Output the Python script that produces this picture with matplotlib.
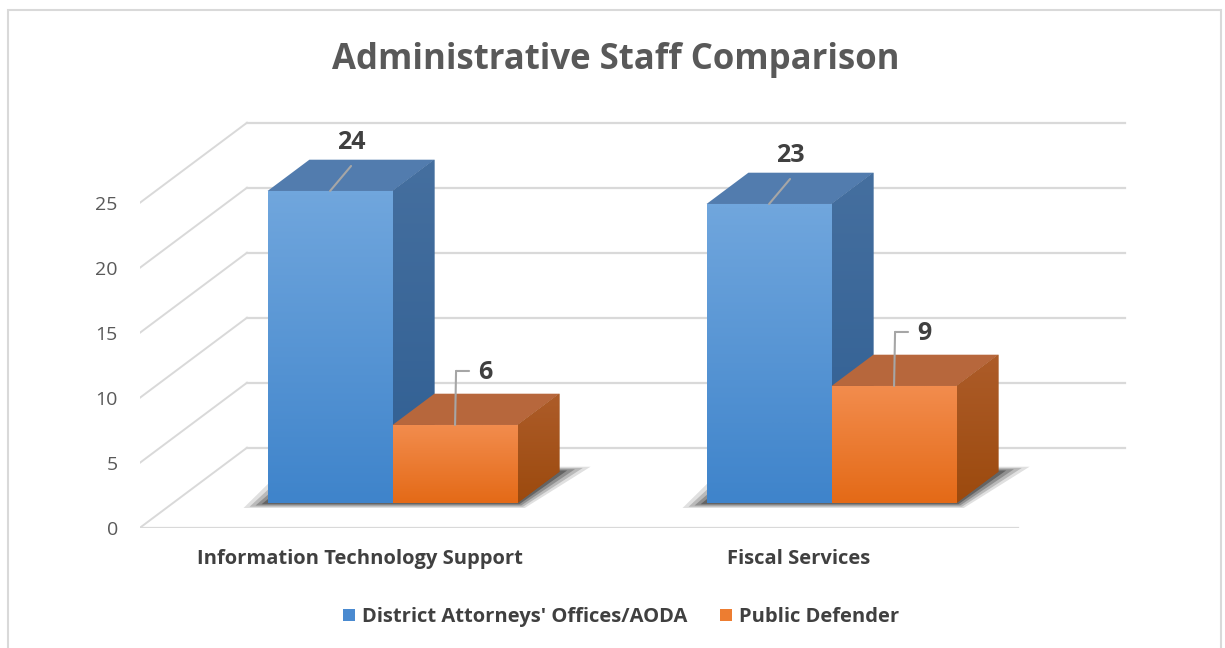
import numpy as np
import matplotlib
matplotlib.use('Agg')
import matplotlib.pyplot as plt
from matplotlib.patches import Polygon, Rectangle, Patch
from matplotlib.colors import LinearSegmentedColormap
from matplotlib.transforms import offset_copy

# data
categories = ['Information Technology Support', 'Fiscal Services']
series = ["District Attorneys' Offices/AODA", 'Public Defender']
da_values = [24, 23]
pd_values = [6, 9]
yticks = [0, 5, 10, 15, 20, 25]

plt.rcParams['font.family'] = ['Open Sans', 'DejaVu Sans']

fig = plt.figure(figsize=(12.25, 6.48), dpi=100)
W, H = 1225.0, 648.0

# chart frame
fig.patches.append(Rectangle((8 / W, -0.05), 1213 / W, 1.05 - 10 / H, transform=fig.transFigure,
                             fill=False, edgecolor='#d9d9d9', lw=1.5))

# axes region in pixels: x 0..2.25 -> 140..1128, y from 527.7 up at 13 px per unit
px_x = 439.0
px_y = 13.0
ax = fig.add_axes([140 / W, 1 - 527.7 / H, 2.25 * px_x / W, 31.5 * px_y / H])
ax.set_xlim(0, 2.25)
ax.set_ylim(0, 31.5)
for s in ax.spines.values():
    s.set_visible(False)

# floor depth in data units
dxD = 107 / px_x
dyD = 80 / px_y
f0, f1 = 0.309, 0.70
grid_c = '#d9d9d9'

# walls
ax.plot([0, 2], [0, 0], color=grid_c, lw=1.6, zorder=1)
for v in yticks:
    ax.plot([0, dxD], [v, v + dyD], color=grid_c, lw=1.4, zorder=1)
    ax.plot([dxD, 2 + dxD], [v + dyD, v + dyD], color=grid_c, lw=1.6, zorder=1)

ax.set_yticks(yticks)
ax.set_yticklabels([str(v) for v in yticks])
ax.tick_params(axis='y', length=0, pad=16, labelsize=14, labelcolor='#595959')
ax.set_xticks([0.5, 1.5])
ax.set_xticklabels(categories, fontweight='bold')
ax.tick_params(axis='x', length=0, pad=15, labelsize=14.5, labelcolor='#404040')

bar_w = 125 / px_x
x0 = f0 * dxD
y0 = f0 * dyD
dw = (f1 - f0) * dxD
dh = (f1 - f0) * dyD

styles = [
    dict(front=('#70a6dd', '#3f84cb'), top='#527cae', side=('#456f9f', '#2f5e92')),
    dict(front=('#f28c4d', '#e46a17'), top='#b7673c', side=('#ad5c29', '#9c4a0e')),
]

centers = np.arange(len(categories)) + 0.5

# soft shadows under each group
for c in centers:
    xl = c + x0 - bar_w
    xr = c + x0 + bar_w
    for k, a in [(1.0, 0.15), (0.75, 0.22), (0.5, 0.3), (0.25, 0.45)]:
        ex = k * 24 / px_x
        ey = k * 5 / px_y
        poly = [(xl - ex, y0 - ey), (xr + ex * 0.3, y0 - ey),
                (xr + dw + ex * 1.3, y0 + dh + ey), (xl + dw - ex, y0 + dh + ey)]
        ax.add_patch(Polygon(poly, closed=True, facecolor='#303030', edgecolor='none',
                             alpha=a, zorder=2))

grad = np.linspace(0, 1, 64).reshape(-1, 1)


def draw_box(xl, height, st, z):
    xr = xl + bar_w
    yt = y0 + height
    bars = ax.bar([xl], [height], width=bar_w, bottom=y0, align='edge',
                  color=st['front'][1], edgecolor='none', zorder=z)
    cm = LinearSegmentedColormap.from_list('g', [st['front'][1], st['front'][0]])
    im = ax.imshow(grad, extent=(xl, xr, y0, yt), origin='lower', cmap=cm,
                   aspect='auto', zorder=z + 0.1, interpolation='bilinear')
    im.set_clip_path(bars.patches[0])
    top = [(xl, yt), (xr, yt), (xr + dw, yt + dh), (xl + dw, yt + dh)]
    ax.add_patch(Polygon(top, closed=True, facecolor=st['top'], edgecolor='none', zorder=z))
    side = [(xr, y0), (xr, yt), (xr + dw, yt + dh), (xr + dw, y0 + dh)]
    sp = Polygon(side, closed=True, facecolor=st['side'][1], edgecolor='none', zorder=z)
    ax.add_patch(sp)
    cm2 = LinearSegmentedColormap.from_list('s', [st['side'][1], st['side'][0]])
    im2 = ax.imshow(grad, extent=(xr, xr + dw, y0, yt + dh), origin='lower', cmap=cm2,
                    aspect='auto', zorder=z + 0.1, interpolation='bilinear')
    im2.set_clip_path(sp)
    return (xl + xr) / 2, yt


def off(dx, dy):
    return offset_copy(ax.transData, fig=fig, x=dx, y=dy, units='dots')


lab_kw = dict(fontsize=18, fontweight='bold', color='#404040', zorder=8)
line_kw = dict(arrowstyle='-', color='#a6a6a6', lw=1.5, shrinkA=0, shrinkB=0)
for i, c in enumerate(centers):
    # district attorneys bar, diagonal leader to the label
    mx, yt = draw_box(c + x0 - bar_w, da_values[i], styles[0], 3)
    ax.annotate('', xy=(mx, yt), xytext=(21, 25), textcoords='offset pixels',
                arrowprops=line_kw, zorder=7)
    ax.text(mx, yt, str(da_values[i]), transform=off(21, 48), ha='center', va='center', **lab_kw)

    # public defender bar, elbow leader to the label
    mx2, yt2 = draw_box(c + x0, pd_values[i], styles[1], 4)
    ax.annotate('', xy=(mx2, yt2), xytext=(1, 54), textcoords='offset pixels',
                arrowprops=line_kw, zorder=7)
    ax.annotate('', xy=(mx2, yt2), xycoords=off(1, 54), xytext=(13, 0),
                textcoords='offset pixels', arrowprops=line_kw, zorder=7)
    ax.text(mx2, yt2, str(pd_values[i]), transform=off(23, 52), ha='left', va='center', **lab_kw)

# title
fig.text(616 / W, 1 - 60 / H, 'Administrative Staff Comparison', ha='center', va='center',
         fontsize=25, fontweight='bold', color='#595959')

# legend
handles = [Patch(facecolor='#4a8ad0', edgecolor='none'),
           Patch(facecolor='#ed7d31', edgecolor='none')]
lgd = fig.legend(handles, series, loc='center', bbox_to_anchor=(621 / W, 1 - 617 / H), ncol=2,
                 frameon=False, handlelength=0.6, handleheight=0.6, handletextpad=0.35,
                 columnspacing=1.6, prop=dict(weight='bold', size=14.5))
for t in lgd.get_texts():
    t.set_color('#404040')

plt.savefig('out.png', dpi=100)
